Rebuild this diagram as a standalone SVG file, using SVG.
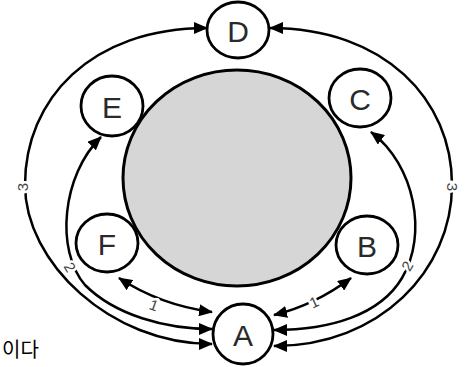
<svg xmlns="http://www.w3.org/2000/svg" width="468" height="367" viewBox="0 0 468 367">
<style>
.node{fill:#fff;stroke:#000;stroke-width:2.8}
.nl{font-family:"Liberation Sans",Arial,sans-serif;font-size:30px;fill:#2a2a2a;text-anchor:middle;dominant-baseline:central}
.ln{fill:none;stroke:#000;stroke-width:2.5;marker-start:url(#ah);marker-end:url(#ah)}
.lb{font-family:"Liberation Sans",Arial,sans-serif;font-size:15px;fill:#444;text-anchor:middle;dominant-baseline:central;stroke:#fff;stroke-width:5;paint-order:stroke}
</style>
<defs>
<marker id="ah" viewBox="0 0 14 12" refX="13" refY="6" markerWidth="14" markerHeight="12" markerUnits="userSpaceOnUse" orient="auto-start-reverse">
<path d="M0,0 L14,6 L0,12 Z" fill="#000"/>
</marker>
</defs>
<rect width="468" height="367" fill="#fff"/>
<g id="hub">
<ellipse cx="237" cy="178" rx="114" ry="108" fill="#d6d6d6" stroke="#000" stroke-width="3"/>
</g>
<g id="connectors">
<path class="ln" d="M 207 28 C 90 28, 25 100, 25 185 C 25 262, 110 344, 212 344"/>
<path class="ln" d="M 270 28 C 385 28, 452 100, 452 185 C 452 270, 380 346, 274 346"/>
<path class="ln" d="M 101 137 C 62 175, 55 250, 85 285 C 115 315, 165 329, 212 329"/>
<path class="ln" d="M 371 132 C 415 165, 428 235, 402 278 C 380 315, 330 330, 274 330"/>
<path class="ln" d="M 119 278 Q 160 305, 212 312"/>
<path class="ln" d="M 351 278 Q 315 305, 274 315"/>
<text class="lb" transform="translate(22,187) rotate(-90)">3</text>
<text class="lb" transform="translate(452,187) rotate(90)">3</text>
<text class="lb" transform="translate(70,267) rotate(60)">2</text>
<text class="lb" transform="translate(407,266) rotate(-60)">2</text>
<text class="lb" transform="translate(154,305) rotate(20)">1</text>
<text class="lb" transform="translate(314,302) rotate(-25)">1</text>
</g>
<g id="D"><ellipse class="node" cx="238" cy="30" rx="31" ry="28"/><text class="nl" x="238" y="31">D</text></g>
<g id="E"><ellipse class="node" cx="112" cy="106" rx="31" ry="30"/><text class="nl" x="112" y="107">E</text></g>
<g id="C"><ellipse class="node" cx="360" cy="98" rx="31" ry="29"/><text class="nl" x="360" y="99">C</text></g>
<g id="F"><ellipse class="node" cx="107" cy="243" rx="31" ry="29"/><text class="nl" x="107" y="244">F</text></g>
<g id="B"><ellipse class="node" cx="367" cy="245" rx="31" ry="29"/><text class="nl" x="367" y="246">B</text></g>
<g id="A"><ellipse class="node" cx="243" cy="334" rx="30" ry="30"/><text class="nl" x="243" y="335">A</text></g>
<text x="2" y="357" font-family="'Noto Sans CJK KR',sans-serif" font-size="20" fill="#000">이다</text>
</svg>
